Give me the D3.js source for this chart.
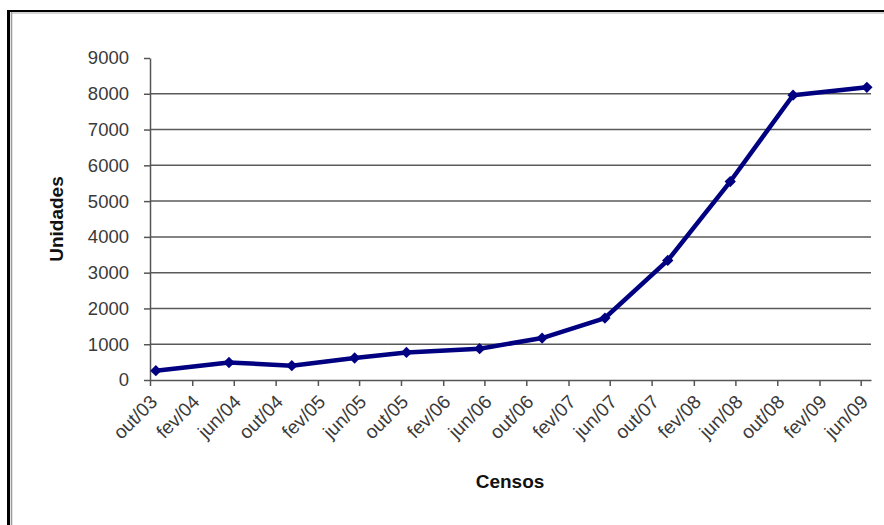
<!DOCTYPE html>
<html>
<head>
<meta charset="utf-8">
<script src="https://cdn.jsdelivr.net/npm/d3@7"></script>
<style>
  body { margin: 0; background: #fff; }
  svg text { font-family: Arial, "Liberation Sans", sans-serif; }
</style>
</head>
<body>
<svg id="chart" width="884" height="525"></svg>
<script>
// census dates and housing units
var censusDates = ["2003-10-18", "2004-05-18", "2004-11-17", "2005-05-19", "2005-10-17", "2006-05-18",
                   "2006-11-16", "2007-05-18", "2007-11-17", "2008-05-17", "2008-11-16", "2009-06-19"];
var unidades = [260, 490, 400, 615, 770, 875, 1173, 1732, 3341, 5547, 7960, 8180];
var tickLabels = ["out/03", "fev/04", "jun/04", "out/04", "fev/05", "jun/05", "out/05", "fev/06", "jun/06",
                  "out/06", "fev/07", "jun/07", "out/07", "fev/08", "jun/08", "out/08", "fev/09", "jun/09"];
var yTicks = [0, 1000, 2000, 3000, 4000, 5000, 6000, 7000, 8000, 9000];

var parse = d3.utcParse("%Y-%m-%d");
var data = censusDates.map(function(d, i) { return {date: parse(d), value: unidades[i]}; });
var tickDates = d3.utcMonth.range(parse("2003-10-01"), parse("2009-06-02"), 4);

var svg = d3.select("#chart");
var plotL = 150, plotR = 871, plotT = 58, plotB = 380;

var x = d3.scaleUtc().domain([parse("2003-10-01"), parse("2009-07-01")]).range([plotL, plotR]);
var y = d3.scaleLinear().domain([0, 9000]).range([plotB, plotT]);

// frame
svg.append("line").attr("x1", 8.5).attr("x2", 8.5).attr("y1", 10).attr("y2", 525)
  .attr("stroke", "#000").attr("stroke-width", 3);
svg.append("line").attr("x1", 11.5).attr("x2", 11.5).attr("y1", 12).attr("y2", 525)
  .attr("stroke", "#999").attr("stroke-width", 1.5);
svg.append("line").attr("x1", 7).attr("x2", 884).attr("y1", 11).attr("y2", 11)
  .attr("stroke", "#000").attr("stroke-width", 2);
svg.append("line").attr("x1", 11).attr("x2", 884).attr("y1", 13).attr("y2", 13)
  .attr("stroke", "#aaa").attr("stroke-width", 1);

// gridlines
svg.append("g").selectAll("line")
  .data(yTicks.filter(function(d) { return d > 0 && d < 9000; }))
  .enter().append("line")
  .attr("x1", plotL).attr("x2", plotR)
  .attr("y1", function(d) { return y(d); }).attr("y2", function(d) { return y(d); })
  .attr("stroke", "#5a5a5a").attr("stroke-width", 1.5);

// y axis
var yAxis = svg.append("g").attr("transform", "translate(" + plotL + ",0)")
  .call(d3.axisLeft(y).tickValues(yTicks).tickSize(6).tickSizeOuter(0).tickPadding(15).tickFormat(d3.format("d")));
yAxis.select(".domain").attr("stroke", "#555").attr("stroke-width", 1.5);
yAxis.selectAll(".tick line").attr("stroke", "#555").attr("stroke-width", 1.5);
yAxis.selectAll("text").attr("fill", "#3a3a3a").style("font-size", "18.5px");

// x axis
var xAxis = svg.append("g").attr("transform", "translate(0," + plotB + ")")
  .call(d3.axisBottom(x).tickValues(tickDates).tickSize(6).tickSizeOuter(0)
    .tickFormat(function(d, i) { return tickLabels[i]; }));
xAxis.select(".domain").attr("stroke", "#555").attr("stroke-width", 1.5);
xAxis.selectAll(".tick line").attr("stroke", "#555").attr("stroke-width", 1.5);
xAxis.selectAll("text")
  .attr("fill", "#3a3a3a").style("font-size", "19px")
  .attr("text-anchor", "end").attr("dy", null).attr("y", null)
  .attr("transform", "translate(8,23) rotate(-45)");

// series line
var line = d3.line().x(function(d) { return x(d.date); }).y(function(d) { return y(d.value); });
svg.append("path").datum(data).attr("d", line)
  .attr("fill", "none").attr("stroke", "#000080").attr("stroke-width", 4.5)
  .attr("stroke-linejoin", "round");

svg.append("g").selectAll("path").data(data).enter().append("path")
  .attr("d", d3.symbol().type(d3.symbolSquare).size(64))
  .attr("transform", function(d) { return "translate(" + x(d.date) + "," + y(d.value) + ") rotate(45)"; })
  .attr("fill", "#000080");

// titles
svg.append("text").attr("transform", "translate(63," + ((plotT + plotB) / 2) + ") rotate(-90)")
  .attr("text-anchor", "middle").style("font-size", "19px").style("font-weight", "bold")
  .attr("fill", "#111").text("Unidades");
svg.append("text").attr("x", 510).attr("y", 488).attr("text-anchor", "middle")
  .style("font-size", "19px").style("font-weight", "bold").attr("fill", "#111").text("Censos");
</script>
</body>
</html>
